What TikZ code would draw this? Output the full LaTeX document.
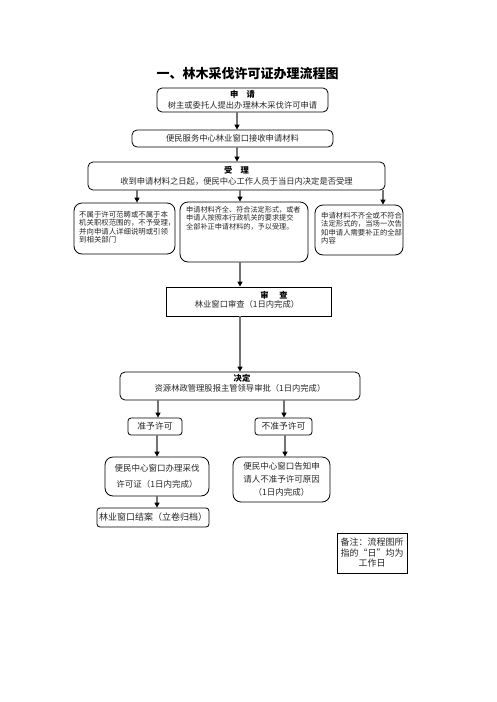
\documentclass[tikz,border=0pt]{standalone}
\usepackage{fontspec}
\setmainfont{Noto Sans CJK SC}
\usetikzlibrary{arrows.meta}
\tikzset{
  rbox/.style={draw, line width=0.8pt, rounded corners=5pt, inner sep=0pt, align=center, text=black!85},
  sbox/.style={draw, line width=0.8pt, inner sep=0pt, align=center, text=black!85},
  conn/.style={draw=black!55, line width=1.6pt, -{Triangle[length=5pt,width=5pt,color=black]}},
  smalltext/.style={inner sep=0pt, align=left, anchor=north west, text=black!85},
}
\begin{document}
\begin{tikzpicture}[x=1pt,y=-1pt]
\useasboundingbox (0,0) rectangle (496,702);
% title
\node[font=\fontsize{13}{15}\selectfont\bfseries] (title) at (247.5,74) {一、林木采伐许可证办理流程图};
% boxes
\node[rbox, minimum width=171pt, minimum height=24pt, font=\fontsize{8.3}{11}\selectfont] (b1) at (242.5,100)
  {\textbf{\color{black}申\hspace{1em}请}\\树主或委托人提出办理林木采伐许可申请};
\node[rbox, minimum width=201pt, minimum height=17pt, font=\fontsize{8.3}{11}\selectfont] (b2) at (232.5,138.5)
  {便民服务中心林业窗口接收申请材料};
\node[rbox, minimum width=297pt, minimum height=28pt, font=\fontsize{8.3}{10.5}\selectfont] (b3) at (236.5,176)
  {\textbf{\color{black}受\hspace{1em}理}\\收到申请材料之日起，便民中心工作人员于当日内决定是否受理};
% three small boxes
\node[rbox, rounded corners=8pt, minimum width=101pt, minimum height=51pt] (l) at (124.5,228.5) {};
\node[smalltext, font=\fontsize{7.4}{8.4}\selectfont] (lt) at (79,211)
  {不属于许可范畴或不属于本\\机关职权范围的，不予受理，\\并向申请人详细说明或引领\\到相关部门};
\node[rbox, rounded corners=8pt, minimum width=128pt, minimum height=60pt] (m) at (244,232) {};
\node[smalltext, font=\fontsize{7.15}{8.5}\selectfont] (mt) at (186,206)
  {申请材料齐全、符合法定形式，或者\\申请人按照本行政机关的要求提交\\全部补正申请材料的，予以受理。};
\node[rbox, rounded corners=8pt, minimum width=88pt, minimum height=50pt] (r) at (359,230) {};
\node[smalltext, font=\fontsize{7.35}{8.4}\selectfont] (rt) at (321,212)
  {申请材料不齐全或不符合\\法定形式的，当场一次告\\知申请人需要补正的全部\\内容};
% review
\node[sbox, minimum width=165pt, minimum height=29pt] (sc) at (248.5,301.5) {};
\node[inner sep=0pt, font=\fontsize{8.3}{10}\selectfont\bfseries] (sct) at (274,295) {审\hspace{1.3em}查};
\node[inner sep=0pt, font=\fontsize{8.3}{10}\selectfont, text=black!85] (scl) at (247,304.5) {林业窗口审查（1日内完成）};
% decision
\node[rbox, minimum width=240pt, minimum height=28pt] (jd) at (240,386) {};
\node[inner sep=0pt, font=\fontsize{8.3}{10}\selectfont\bfseries] (jdt) at (242,378) {决定};
\node[inner sep=0pt, font=\fontsize{8.3}{10}\selectfont, text=black!85] (jdl) at (240,388.5) {资源林政管理股报主管领导审批（1日内完成）};
% outcomes
\node[rbox, rounded corners=3pt, minimum width=54pt, minimum height=17pt, font=\fontsize{8.8}{10}\selectfont] (zy) at (155,426.5) {准予许可};
\node[rbox, rounded corners=3pt, minimum width=57pt, minimum height=17pt, font=\fontsize{8.8}{10}\selectfont] (bz) at (283.5,426.5) {不准予许可};
\node[rbox, rounded corners=8pt, minimum width=104pt, minimum height=39pt, font=\fontsize{8.5}{16}\selectfont] (bl) at (157,476.5)
  {便民中心窗口办理采伐\\许可证（1日内完成）};
\node[rbox, rounded corners=8pt, minimum width=97pt, minimum height=45pt, font=\fontsize{8.5}{13}\selectfont] (br) at (281.5,479.5)
  {便民中心窗口告知申\\请人不准予许可原因\\（1日内完成）};
\node[rbox, rounded corners=3pt, minimum width=112pt, minimum height=19pt, font=\fontsize{9}{10}\selectfont] (ja) at (153,517.5)
  {林业窗口结案（立卷归档）};
\node[sbox, minimum width=70pt, minimum height=40pt, font=\fontsize{9}{10.5}\selectfont] (note) at (372,553)
  {备注：流程图所\\指的“日”均为\\工作日};
% connector x positions
\coordinate (xa) at (237,0);
\coordinate (xl) at (137,0);
\coordinate (xm) at (240,0);
\coordinate (xr) at (383,0);
\coordinate (xz) at (158,0);
\coordinate (xb) at (284,0);
\coordinate (xz2) at (157,0);
\coordinate (xb2) at (285,0);
% connectors
\draw[conn] (b1.south -| xa) -- (b2.north -| xa);
\draw[conn] (b2.south -| xa) -- (b3.north -| xa);
\draw[conn] (b3.south -| xl) -- (l.north -| xl);
\draw[conn] (b3.south -| xm) -- (m.north -| xm);
\draw[conn] (b3.south -| xr) -- (r.north -| xr);
\draw[conn] (m.south -| xm) -- (sc.north -| xm);
\draw[conn] (sc.south -| xm) -- (jd.north -| xm);
\draw[conn] (jd.south -| xz) -- (zy.north -| xz);
\draw[conn] (jd.south -| xb) -- (bz.north -| xb);
\draw[conn] (zy.south -| xz2) -- (bl.north -| xz2);
\draw[conn] (bz.south -| xb2) -- (br.north -| xb2);
\draw[conn] (bl.south -| xz2) -- (ja.north -| xz2);
\end{tikzpicture}
\end{document}
